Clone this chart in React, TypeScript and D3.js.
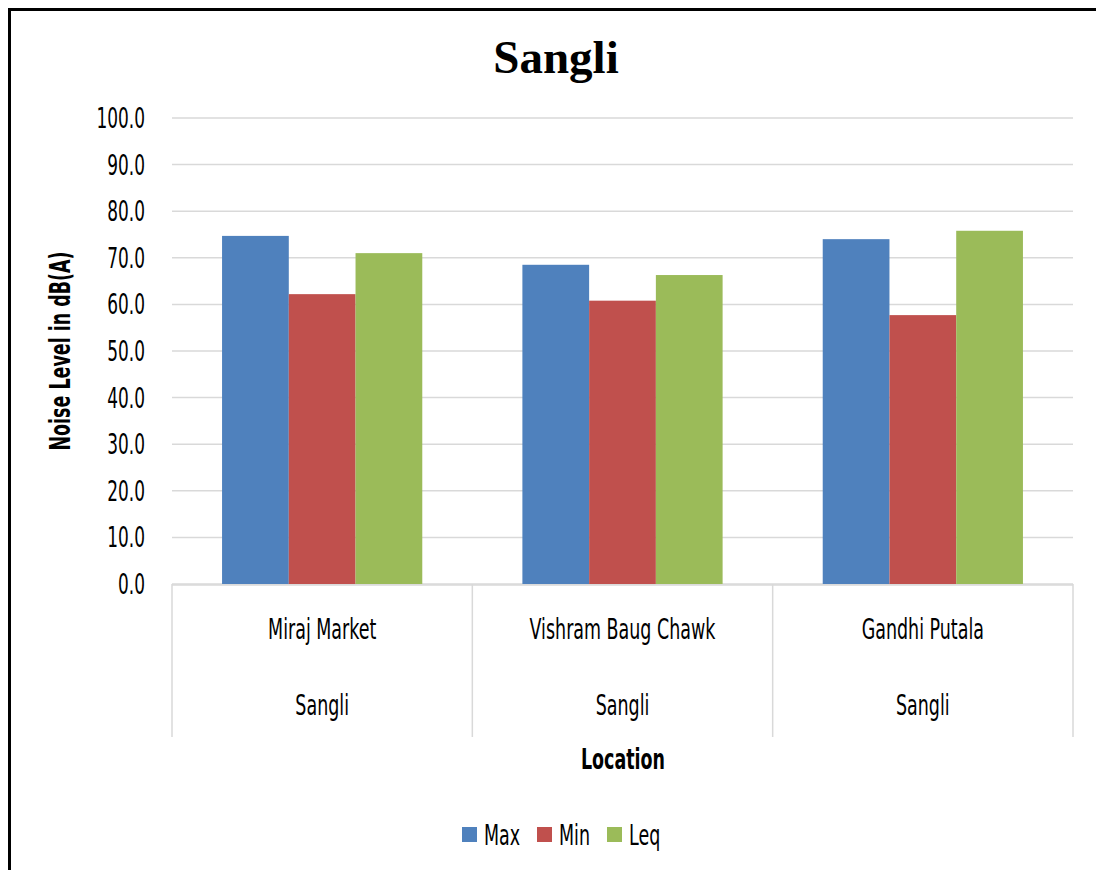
import React from "react";
import * as d3 from "d3";

const categories = ["Miraj Market", "Vishram Baug Chawk", "Gandhi Putala"];
const groupLabels = ["Sangli", "Sangli", "Sangli"];
const seriesNames = ["Max", "Min", "Leq"];
const maxValues = [74.7, 68.5, 74.0];
const minValues = [62.2, 60.8, 57.7];
const leqValues = [71.0, 66.3, 75.8];
const yTicks = [0, 10, 20, 30, 40, 50, 60, 70, 80, 90, 100];
const colors = ["#4F81BD", "#C0504D", "#9BBB59"];

const FONT = "'Liberation Sans Narrow', 'Arial Narrow', 'DejaVu Sans Condensed', sans-serif";
const SX = 0.67;

function NText({ x, y, children, anchor = "middle", size = 29, weight = "normal", sx = SX, rotate = 0 }: any) {
  return (
    <g transform={`translate(${x},${y}) rotate(${rotate}) scale(${sx},1)`}>
      <text
        textAnchor={anchor}
        dominantBaseline="central"
        fontFamily={FONT}
        fontSize={size}
        fontWeight={weight}
        fill="#000"
      >
        {children}
      </text>
    </g>
  );
}

export default function App() {
  const W = 1096;
  const H = 870;
  const left = 172;
  const right = 1073;
  const top = 118;
  const bottom = 584;

  const series = [maxValues, minValues, leqValues];

  const x0 = d3.scaleBand<string>().domain(categories).range([left, right]).paddingInner(0).paddingOuter(0);
  const inner = d3
    .scaleBand<string>()
    .domain(seriesNames)
    .range([0, x0.bandwidth()])
    .paddingInner(0)
    .paddingOuter(0.75);
  const y = d3.scaleLinear().domain([0, 100]).range([bottom, top]);

  const sepXs = [...categories.map((c) => x0(c) as number), right];

  const legendX = [462, 537, 607];

  return (
    <svg width={W} height={H} style={{ position: "absolute", left: 0, top: 0 }}>
      <rect x={0} y={0} width={W} height={H} fill="#fff" />
      <rect x={9.5} y={9.5} width={1200} height={1000} fill="none" stroke="#000" strokeWidth={3} />

      {/* title */}
      <text
        x={556}
        y={73}
        textAnchor="middle"
        fontFamily="'Liberation Serif', 'Times New Roman', serif"
        fontWeight="bold"
        fontSize={47}
        fill="#000"
      >
        Sangli
      </text>

      {/* gridlines */}
      {yTicks.map((t) => (
        <line key={t} x1={left} x2={right} y1={y(t)} y2={y(t)} stroke="#d9d9d9" strokeWidth={1.5} />
      ))}

      {/* y tick labels */}
      {yTicks.map((t) => (
        <NText key={"l" + t} x={145} y={y(t)} anchor="end" sx={0.65}>
          {d3.format(".1f")(t)}
        </NText>
      ))}

      {/* bars */}
      {categories.map((c, ci) =>
        seriesNames.map((s, si) => (
          <rect
            key={c + s}
            x={(x0(c) as number) + (inner(s) as number)}
            y={y(series[si][ci])}
            width={inner.bandwidth()}
            height={y(0) - y(series[si][ci])}
            fill={colors[si]}
          />
        ))
      )}

      {/* category axis */}
      <line x1={left} x2={right} y1={bottom + 1} y2={bottom + 1} stroke="#d9d9d9" strokeWidth={1.5} />
      {sepXs.map((sx, i) => (
        <line key={"s" + i} x1={sx} x2={sx} y1={bottom} y2={737} stroke="#d9d9d9" strokeWidth={1.5} />
      ))}
      {categories.map((c) => (
        <NText key={"c" + c} x={(x0(c) as number) + x0.bandwidth() / 2} y={629}>
          {c}
        </NText>
      ))}
      {groupLabels.map((g, i) => (
        <NText key={"g" + i} x={(x0(categories[i]) as number) + x0.bandwidth() / 2} y={705}>
          {g}
        </NText>
      ))}

      {/* axis titles */}
      <NText x={623} y={759} weight="bold">
        Location
      </NText>
      <NText x={60} y={351} weight="bold" rotate={-90} sx={0.67}>
        Noise Level in dB(A)
      </NText>

      {/* legend */}
      {seriesNames.map((s, i) => (
        <g key={"lg" + s}>
          <rect x={legendX[i]} y={827} width={15} height={15} fill={colors[i]} />
          <NText x={legendX[i] + 22} y={835} anchor="start">
            {s}
          </NText>
        </g>
      ))}
    </svg>
  );
}
